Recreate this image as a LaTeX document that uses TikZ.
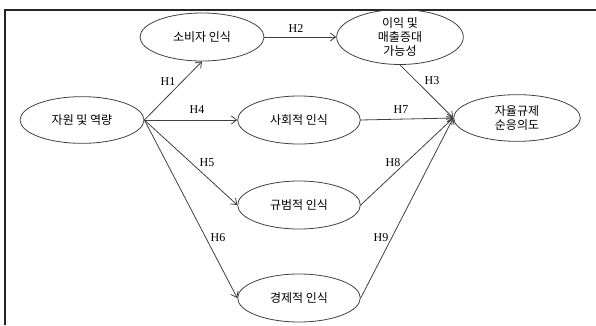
\documentclass[tikz,border=0pt]{standalone}
\usepackage{fontspec}
\setmainfont{Liberation Serif}
\newfontfamily\krfont{Noto Sans CJK KR}
\usetikzlibrary{shapes.geometric,arrows.meta}
\begin{document}
\begin{tikzpicture}[x=0.75pt,y=-0.75pt,
  ell/.style={ellipse,draw=black!75,line width=0.6pt,inner sep=0pt,font=\krfont\fontsize{9}{10.5}\selectfont,align=center},
  conn/.style={draw=black!75,line width=0.6pt,-{Straight Barb[length=4pt,width=6pt]}},
  lab/.style={font=\fontsize{9}{10}\selectfont,inner sep=1pt}]
\useasboundingbox (0,0) rectangle (596,325);
\draw[line width=1.2pt,black!85] (5,325) -- (5,10) -- (596,10);
\node[ell,minimum width=93pt,minimum height=35pt] (src) at (82,120) {자원 및 역량};
\node[ell,minimum width=93pt,minimum height=36pt] (cons) at (202,37) {소비자 인식};
\node[ell,minimum width=95pt,minimum height=38pt] (prof) at (400,37) {이익 및\\매출증대\\가능성};
\node[ell,minimum width=92pt,minimum height=36pt] (soc) at (299,120) {사회적 인식};
\node[ell,minimum width=95pt,minimum height=35pt] (tgt) at (517,118) {자율규제\\순응의도};
\node[ell,minimum width=92pt,minimum height=36pt] (norm) at (299,205) {규범적 인식};
\node[ell,minimum width=92pt,minimum height=36pt] (econ) at (299,298) {경제적 인식};
\draw[conn] (src.east) -- (cons.south);
\draw[conn] (src.east) -- (soc.west);
\draw[conn] (src.east) -- (norm.west);
\draw[conn] (src.east) -- (econ.west);
\draw[conn] (cons.east) -- (prof.west);
\draw[conn] (prof.south) -- (tgt.west);
\draw[conn] (soc.east) -- (tgt.west);
\draw[conn] (norm.east) -- (tgt.west);
\draw[conn] (econ.east) -- (tgt.west);
\node[lab] (h1) at (168,82) {H1};
\node[lab] (h2) at (296,29) {H2};
\node[lab] (h3) at (432,81) {H3};
\node[lab] (h4) at (197,110) {H4};
\node[lab] (h5) at (207,163) {H5};
\node[lab] (h6) at (218,238) {H6};
\node[lab] (h7) at (401,110) {H7};
\node[lab] (h8) at (393,163) {H8};
\node[lab] (h9) at (381,238) {H9};
\end{tikzpicture}
\end{document}
